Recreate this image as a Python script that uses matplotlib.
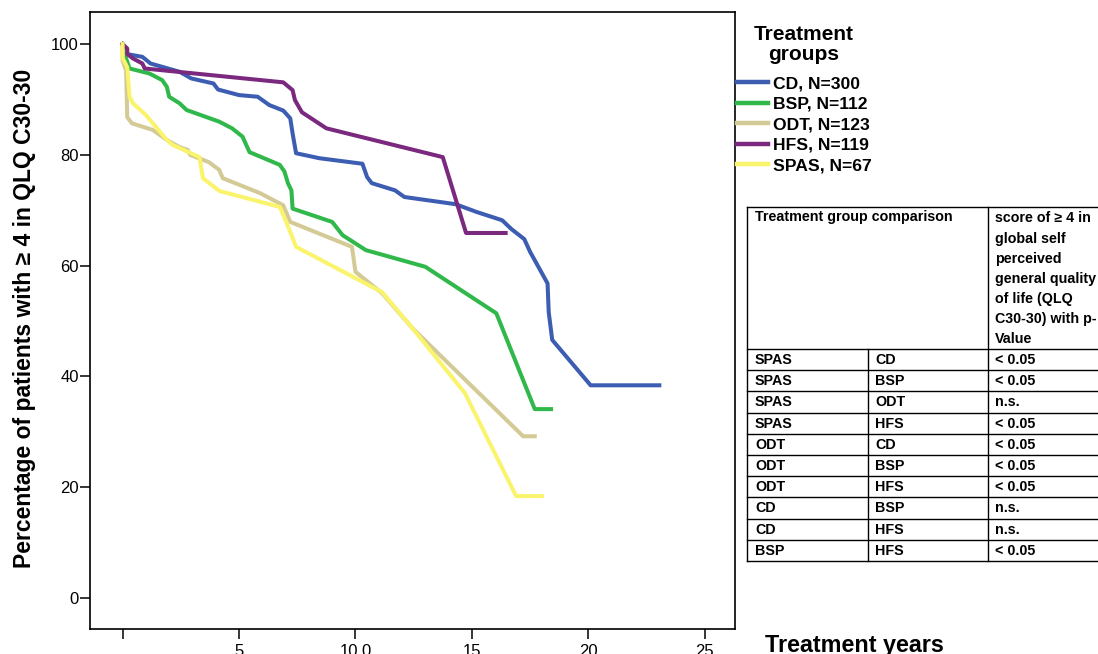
import matplotlib
matplotlib.use("Agg")
import matplotlib.pyplot as plt
from matplotlib import font_manager

plt.rcParams['font.family'] = ['Liberation Sans', 'DejaVu Sans']

# Kurven (Jahre, Prozent)
cd_x = [0, 0.2, 0.85, 1.2, 1.45, 2.45, 2.95, 3.9, 4.1, 5.0, 5.8, 6.3, 6.9, 7.2, 7.3, 7.45,
        8.45, 10.3, 10.5, 10.7, 11.7, 12.1, 14.3, 15.2, 16.3, 16.7, 17.25, 17.5, 18.25, 18.3,
        18.45, 20.1, 23.05]
cd_y = [100, 98.2, 97.7, 96.5, 96.2, 95.0, 93.8, 92.9, 91.8, 90.8, 90.5, 89.0, 88.0, 86.6, 83.9, 80.3,
        79.4, 78.4, 76.0, 74.9, 73.6, 72.4, 71.1, 69.7, 68.2, 66.6, 64.8, 62.5, 56.8, 51.6,
        46.6, 38.4, 38.4]

bsp_x = [0, 0.1, 0.3, 1.15, 1.7, 1.9, 2.0, 2.45, 2.75, 4.15, 4.7, 5.15, 5.45, 6.75, 6.95, 7.1,
         7.25, 7.3, 9.0, 9.45, 10.45, 13.0, 16.05, 17.7, 18.4]
bsp_y = [100, 98, 95.6, 94.7, 93.5, 92.3, 90.5, 89.3, 88.1, 86.0, 84.8, 83.3, 80.5, 78.2, 77.0, 74.9,
         73.6, 70.3, 67.9, 65.5, 62.8, 59.8, 51.4, 34.1, 34.1]

odt_x = [0, 0.0, 0.15, 0.2, 0.4, 1.3, 1.9, 2.45, 2.8, 2.9, 3.7, 4.15, 4.3, 5.9, 6.9, 7.2,
         9.85, 10.0, 11.15, 12.45, 17.2, 17.7]
odt_y = [100, 97, 95.3, 86.8, 85.7, 84.5, 82.7, 81.4, 80.9, 80.0, 78.7, 77.3, 75.8, 73.1, 70.9, 67.9,
         63.4, 58.9, 55.0, 48.7, 29.2, 29.2]

hfs_x = [0, 0.2, 0.2, 0.45, 0.85, 0.95, 6.9, 7.3, 7.4, 7.7, 8.75, 13.75, 14.75, 16.45]
hfs_y = [100, 99.2, 98.2, 97.4, 96.5, 95.6, 93.1, 91.7, 89.9, 87.7, 84.8, 79.6, 65.9, 65.9]

spas_x = [0, 0.0, 0.2, 0.3, 0.45, 1.0, 1.9, 2.15, 3.3, 3.45, 4.15, 6.75, 7.0, 7.45, 11.15,
          12.45, 14.7, 16.9, 18.0]
spas_y = [100, 97.5, 95.8, 90.5, 89.3, 87.2, 82.7, 81.8, 79.6, 75.8, 73.5, 70.6, 68.2, 63.4, 55.2,
          48.7, 37.0, 18.4, 18.4]

group_labels = ["CD, N=300", "BSP, N=112", "ODT, N=123", "HFS, N=119", "SPAS, N=67"]
group_colors = ["#3d5db2", "#30b84b", "#d3ca95", "#7b287f", "#f9f46c"]

x_ticks = [0, 5, 10, 15, 20, 25]
x_tick_labels = ["", "5", "10.0", "15", "20", "25"]
y_ticks = [0, 20, 40, 60, 80, 100]

# Tabelle der Gruppenvergleiche
cmp_a = ["SPAS", "SPAS", "SPAS", "SPAS", "ODT", "ODT", "ODT", "CD", "CD", "BSP"]
cmp_b = ["CD", "BSP", "ODT", "HFS", "CD", "BSP", "HFS", "BSP", "HFS", "HFS"]
cmp_p = ["< 0.05", "< 0.05", "n.s.", "< 0.05", "< 0.05", "< 0.05", "< 0.05", "n.s.", "n.s.", "< 0.05"]
head_left = "Treatment group comparison"
head_right = "score of \u2265 4 in\nglobal self\nperceived\ngeneral quality\nof life (QLQ\nC30-30) with p-\nValue"

W, H = 1098, 654
fig = plt.figure(figsize=(W / 100, H / 100), dpi=100)
ax = fig.add_axes([90 / W, 1 - 629 / H, (735 - 90) / W, (629 - 12) / H])

series = [(cd_x, cd_y), (bsp_x, bsp_y), (odt_x, odt_y), (hfs_x, hfs_y), (spas_x, spas_y)]
handles = []
for (xs, ys), lab, col in zip(series, group_labels, group_colors):
    ln, = ax.plot(xs, ys, color=col, lw=2.9, solid_joinstyle='round', label=lab)
    handles.append(ln)

ax.set_xlim(-1.4, 26.3)
ax.set_ylim(-5.6, 105.8)
ax.set_xticks(x_ticks)
ax.set_xticklabels(x_tick_labels)
ax.set_yticks(y_ticks)
ax.tick_params(axis='both', direction='out', length=7.5, width=1.1, labelsize=12, color='black')
ax.tick_params(axis='y', pad=0.5)
ax.tick_params(axis='x', pad=3)
for sp in ax.spines.values():
    sp.set_linewidth(1.2)

ax.set_ylabel("Percentage of patients with \u2265 4 in QLQ C30-30", fontsize=16.5, fontweight='bold')
ax.yaxis.set_label_coords(-0.084, 0.503)

fig.text(765 / W, 2 / H, "Treatment years", fontsize=16.8, fontweight='bold', ha='left', va='baseline')

# Legende mit separatem Titel
fig.text(804 / W, 1 - 25.5 / H, "Treatment\ngroups", fontsize=15, fontweight='bold',
         ha='center', va='top', multialignment='center', linespacing=1.0)
leg = ax.legend(handles=handles, loc='upper left', bbox_to_anchor=(737 / W, 1 - 76 / H),
                bbox_transform=fig.transFigure, frameon=False, borderpad=0, borderaxespad=0,
                handlelength=1.75, handletextpad=0.3, labelspacing=0.3,
                prop={'size': 12.6, 'weight': 'bold'})
for lh in leg.get_lines():
    lh.set_linewidth(3.2)

# Tabelle in Pixelkoordinaten
try:
    font_manager.findfont(font_manager.FontProperties(family='Liberation Sans Narrow'),
                          fallback_to_default=False)
    tab_family, tab_size = ['Liberation Sans Narrow', 'DejaVu Sans'], 12
except ValueError:
    tab_family, tab_size = ['Liberation Sans', 'DejaVu Sans'], 10.3

ov = fig.add_axes([0, 0, 1, 1])
ov.set_xlim(0, W)
ov.set_ylim(H, 0)
ov.axis('off')
ov.patch.set_alpha(0)

t_left, t_top, t_right = 747, 207, 1110
c1, c2 = 868, 988
head_bot = 349
row_h = 21.2
t_bot = head_bot + row_h * len(cmp_a)
lk = dict(color='black', lw=1.0)
ov.plot([t_left, t_right], [t_top, t_top], **lk)
ov.plot([t_left, t_right], [t_bot, t_bot], **lk)
ov.plot([t_left, t_left], [t_top, t_bot], **lk)
ov.plot([c2, c2], [t_top, t_bot], **lk)
ov.plot([c1, c1], [head_bot, t_bot], **lk)
for i in range(len(cmp_a)):
    yy = head_bot + i * row_h
    ov.plot([t_left, t_right], [yy, yy], **lk)

tk = dict(family=tab_family, size=tab_size, weight='bold')
ov.text(755, 210, head_left, ha='left', va='top', **tk)
ov.text(995, 211.5, head_right, ha='left', va='top', linespacing=1.56, **tk)
for i, (a, b, p) in enumerate(zip(cmp_a, cmp_b, cmp_p)):
    yc = head_bot + (i + 0.5) * row_h + 0.5
    ov.text(755, yc, a, ha='left', va='center', **tk)
    ov.text(875, yc, b, ha='left', va='center', **tk)
    ov.text(995, yc, p, ha='left', va='center', **tk)

fig.savefig("out.png", dpi=100)
